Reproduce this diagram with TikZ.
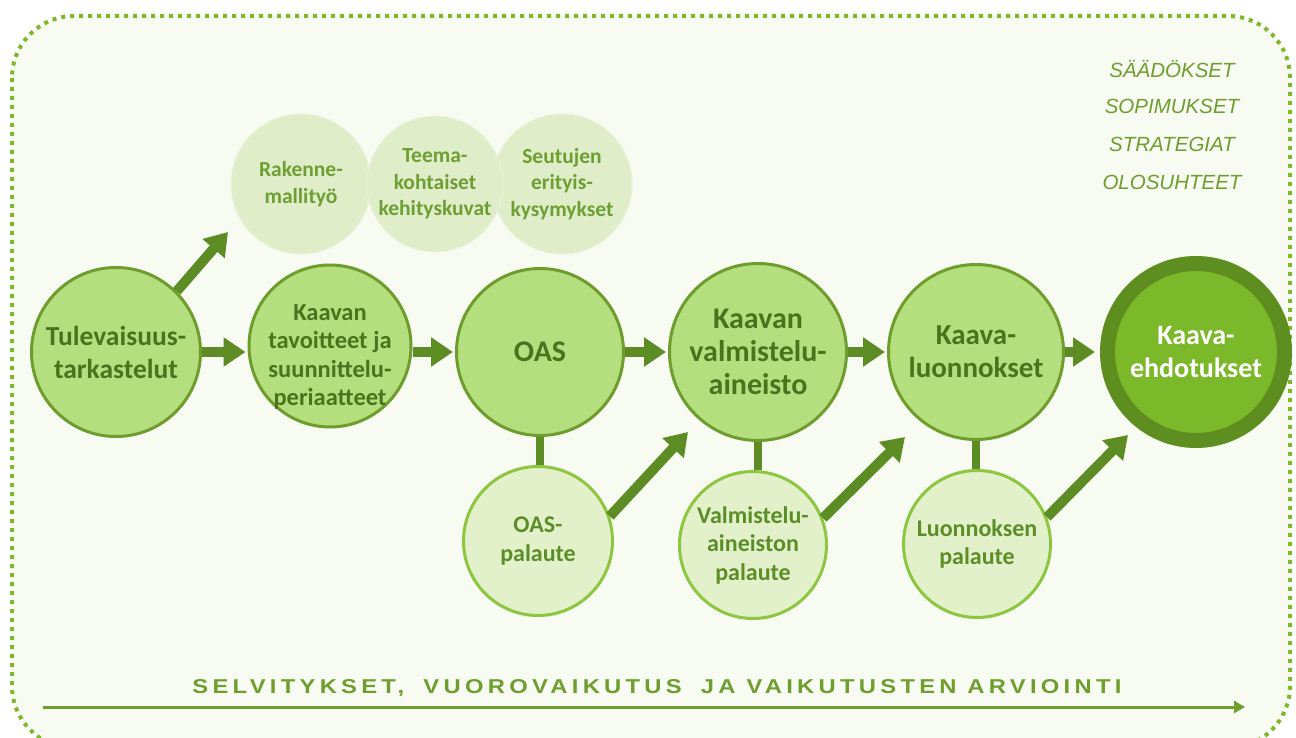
\documentclass[tikz,border=0pt]{standalone}
\usepackage{fontspec}
\usepackage{graphicx}
\setmainfont{Carlito}
\newfontfamily\itsans{Liberation Sans}
\newfontfamily\capsans[LetterSpace=18]{Liberation Sans}
\usetikzlibrary{arrows.meta}
\definecolor{bgcol}{HTML}{F8FBF2}
\definecolor{dotcol}{HTML}{7DB929}
\definecolor{mainfill}{HTML}{B5DF7E}
\definecolor{mainline}{HTML}{6E9D2E}
\definecolor{maintext}{HTML}{4B731E}
\definecolor{arrcol}{HTML}{5E8C24}
\definecolor{fbfill}{HTML}{E3F1CB}
\definecolor{fbline}{HTML}{8DC641}
\definecolor{fbtext}{HTML}{5C8E27}
\definecolor{topfill}{HTML}{DFEDC9}
\definecolor{topline}{HTML}{E9F3DA}
\definecolor{toptext}{HTML}{6E9F33}
\definecolor{ringcol}{HTML}{5D8E1F}
\definecolor{finalfill}{HTML}{7CB92A}
\definecolor{labcol}{HTML}{6E9E2E}
\tikzset{
  maincirc/.style={circle, draw=mainline, line width=3pt, fill=mainfill, text=maintext,
    align=center, inner sep=0pt, font=\bfseries\fontsize{30}{33}\selectfont},
  fbcirc/.style={circle, draw=fbline, line width=3pt, fill=fbfill, text=fbtext,
    align=center, inner sep=0pt, font=\bfseries\fontsize{24}{28.5}\selectfont},
  topcirc/.style={circle, draw=topline, line width=1pt, fill=topfill, text=toptext,
    align=center, inner sep=0pt, font=\bfseries\fontsize{21.5}{26.5}\selectfont},
  bigarrow/.style={draw=arrcol, line width=10pt, -{Triangle[length=22pt,width=28pt]}},
  linkbar/.style={draw=arrcol, line width=8pt},
  sidetext/.style={text=labcol, font=\itsans\itshape\fontsize{20.5}{22}\selectfont, inner sep=0pt},
}
\begin{document}
\begin{tikzpicture}[x=1pt,y=-1pt]
\useasboundingbox (0,0) rectangle (1296,738);
\fill[white] (0,0) rectangle (1296,738);
\draw[dotcol, fill=bgcol, line width=4pt, dash pattern=on 4pt off 5pt, rounded corners=62pt] (12,16) rectangle (1290,748);

% top circles
\node[topcirc, minimum size=140pt] (rm) at (301,184) {Rakenne-\\mallityö};
\node[topcirc, minimum size=140pt] (se) at (562,184) {Seutujen\\erityis-\\kysymykset};
\node[topcirc, minimum size=136pt] (te) at (435,184) {Teema-\\kohtaiset\\kehityskuvat};

% main circles
\node[maincirc, minimum size=169pt, font=\bfseries\fontsize{27.5}{33}\selectfont] (tul) at (116,352) {Tulevaisuus-\\tarkastelut};
\node[maincirc, minimum size=162pt] (kt) at (330,346) {};
\node[text=maintext, align=center, inner sep=0pt, font=\bfseries\fontsize{24.5}{28.5}\selectfont] (ktlab) at (330,357) {Kaavan\\tavoitteet ja\\suunnittelu-\\periaatteet};
\node[maincirc, minimum size=167pt] (oas) at (540,352) {OAS};
\node[maincirc, minimum size=177pt] (vm) at (758,352) {Kaavan\\valmistelu-\\aineisto};
\node[maincirc, minimum size=175pt, font=\bfseries\fontsize{29}{33}\selectfont] (lu) at (976,352) {Kaava-\\luonnokset};
\node[maincirc, draw=ringcol, line width=15pt, fill=finalfill, text=white, minimum size=177pt, font=\bfseries\fontsize{28}{33}\selectfont] (eh) at (1196,352) {Kaava-\\ehdotukset};

% feedback circles
\node[fbcirc, minimum size=149pt] (op) at (538,541) {OAS-\\palaute};
\node[fbcirc, minimum size=147pt] (vp) at (753,545) {Valmistelu-\\aineiston\\palaute};
\node[fbcirc, minimum size=147pt] (lp) at (977,544) {Luonnoksen\\palaute};

% vertical links
\draw[linkbar] (oas.south) -- (oas.south |- op.north);
\draw[linkbar] (vm.south) -- (vm.south |- vp.north);
\draw[linkbar] (lu.south) -- (lu.south |- lp.north);

% horizontal arrows
\draw[bigarrow, shorten >=2pt] (tul.east) -- (tul.east -| kt.west);
\draw[bigarrow, shorten >=2pt] (kt.east |- oas.west) -- (oas.west);
\draw[bigarrow, shorten >=2pt] (oas.east) -- (vm.west);
\draw[bigarrow, shorten >=2pt] (vm.east) -- (lu.west);
\draw[bigarrow, shorten >=5pt] (lu.east) -- (eh.west);

% diagonal arrows
\coordinate (t1) at (228,232);
\coordinate (t2) at (688,432);
\coordinate (t3) at (905,437);
\coordinate (t4) at (1128,435);
\draw[bigarrow] (tul.north east) -- (t1);
\draw[bigarrow] (op.19) -- (t2);
\draw[bigarrow] (vp.21) -- (t3);
\draw[bigarrow] (lp.21) -- (t4);

% side texts
\node[sidetext] (s1) at (1172,69) {SÄÄDÖKSET};
\node[sidetext] (s2) at (1172,106) {SOPIMUKSET};
\node[sidetext] (s3) at (1172,144) {STRATEGIAT};
\node[sidetext] (s4) at (1172,182) {OLOSUHTEET};

% bottom
\node[text=labcol, inner sep=0pt] (bt) at (657,688) {\resizebox{929pt}{14pt}{\capsans\bfseries SELVITYKSET,\hspace{0.35em} VUOROVAIKUTUS\hspace{0.35em} JA VAIKUTUSTEN ARVIOINTI}};
\coordinate (ba) at (43,707);
\coordinate (bb) at (1245,707);
\draw[labcol, line width=3pt, -{Triangle[length=11pt,width=12pt]}] (ba) -- (bb);
\end{tikzpicture}
\end{document}
